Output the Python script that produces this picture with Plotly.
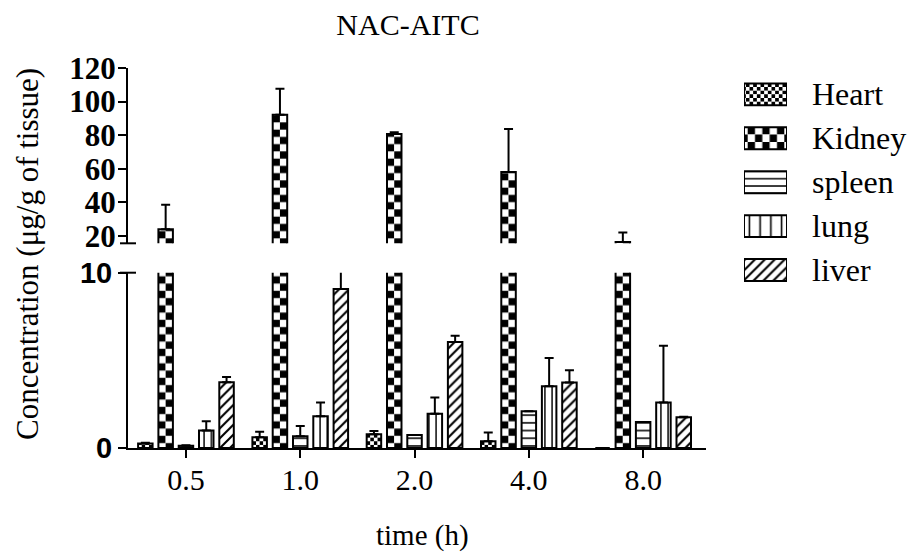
import plotly.graph_objects as go

# ---------------- data ----------------
times = ["0.5", "1.0", "2.0", "4.0", "8.0"]
organs = ["Heart", "Kidney", "spleen", "lung", "liver"]

heart = [0.25, 0.61, 0.78, 0.38, 0.0]
heart_err = [0.05, 0.32, 0.19, 0.51, 0.0]
kidney = [24.0, 92.2, 80.7, 58.0, 16.3]
kidney_err = [14.5, 15.4, 1.0, 25.7, 5.7]
spleen = [0.13, 0.67, 0.74, 2.10, 1.49]
spleen_err = [0.03, 0.59, 0.0, 0.0, 0.0]
lung = [1.00, 1.81, 1.96, 3.52, 2.59]
lung_err = [0.52, 0.78, 0.92, 1.62, 3.24]
liver = [3.75, 9.07, 6.04, 3.73, 1.75]
liver_err = [0.30, 1.20, 0.36, 0.71, 0.03]

lower_ticks = [0, 10]
upper_ticks = [20, 40, 60, 80, 100, 120]
lower_range = [0, 10]
upper_range = [15.6, 120]

values = [heart, kidney, spleen, lung, liver]
errors = [heart_err, kidney_err, spleen_err, lung_err, liver_err]

# ---------------- geometry / styles ----------------
W, H = 915, 552
ML, MR, MT, MB = 128, 0, 68, 104
PW, PH = W - ML - MR, H - MT - MB
X_RIGHT = 706
CAT_PX = 114.3
pitch = 20.3 / CAT_PX
bw = 14.5 / CAT_PX
SERIF = "Liberation Serif, Times New Roman, serif"
SANS = "Liberation Sans, Arial, sans-serif"

styles = [
    dict(kind="checker", cols=4, size=7.25, lrows=6, lsize=7.33),
    dict(kind="checker", cols=2, size=14.5, lrows=3, lsize=14.66),
    dict(kind="pattern", shape="-", size=7.7, solidity=0.2, lsize=7.33, lsolid=0.2),
    dict(kind="pattern", shape="|", size=7.25, solidity=0.2, lsize=10.75, lsolid=0.15),
    dict(kind="pattern", shape="/", size=7.0, solidity=0.3, lsize=7.0, lsolid=0.3),
]

fig = go.Figure()


def err_spec(e):
    return dict(type="data", array=e, arrayminus=[0] * len(e), symmetric=False,
                color="black", thickness=2, width=4.5)


def add_group(vals, errs, idx, st, yaxis):
    center = (idx - 2) * pitch
    left = center - bw / 2
    common = dict(x=times, y=vals, xaxis="x", yaxis=yaxis, showlegend=False,
                  hoverinfo="skip")
    if st["kind"] == "checker":
        n = st["cols"]
        for c in range(n):
            inv = c % 2 == 1
            fig.add_trace(go.Bar(
                **common, offset=left + c * bw / n, width=bw / n,
                marker=dict(color="white", line=dict(width=0),
                            pattern=dict(shape="-", fgcolor="white" if inv else "black",
                                         bgcolor="black" if inv else "white",
                                         size=st["size"], solidity=0.5,
                                         fillmode="replace"))))
        fig.add_trace(go.Bar(
            **common, offset=left, width=bw,
            marker=dict(color="rgba(0,0,0,0)", line=dict(color="black", width=2)),
            error_y=err_spec(errs)))
    else:
        fig.add_trace(go.Bar(
            **common, offset=left, width=bw,
            marker=dict(color="white", line=dict(color="black", width=2),
                        pattern=dict(shape=st["shape"], fgcolor="black", bgcolor="white",
                                     size=st["size"], solidity=st["solidity"],
                                     fillmode="replace")),
            error_y=err_spec(errs)))


for yax in ["y", "y2"]:
    for i in range(len(organs)):
        add_group(values[i], errors[i], i, styles[i], yax)

# ---------------- custom legend (swatches) ----------------
SW = 0.5
for i, organ in enumerate(organs):
    st = styles[i]
    common = dict(x=[1], y=[organ], orientation="h", xaxis="x3", yaxis="y3",
                  showlegend=False, hoverinfo="skip")
    if st["kind"] == "checker":
        n = st["lrows"]
        for r in range(n):
            inv = r % 2 == 1
            fig.add_trace(go.Bar(
                **common, offset=-SW / 2 + r * SW / n, width=SW / n,
                marker=dict(color="white", line=dict(width=0),
                            pattern=dict(shape="|", fgcolor="white" if inv else "black",
                                         bgcolor="black" if inv else "white",
                                         size=st["lsize"], solidity=0.5,
                                         fillmode="replace"))))
        fig.add_trace(go.Bar(
            **common, offset=-SW / 2, width=SW,
            marker=dict(color="rgba(0,0,0,0)", line=dict(color="black", width=2))))
    else:
        fig.add_trace(go.Bar(
            **common, offset=-SW / 2, width=SW,
            marker=dict(color="white", line=dict(color="black", width=2),
                        pattern=dict(shape=st["shape"], fgcolor="black", bgcolor="white",
                                     size=st["lsize"], solidity=st["lsolid"],
                                     fillmode="replace"))))

# ---------------- layout ----------------
axis_common = dict(showline=True, linewidth=2, linecolor="black", ticks="outside",
                   ticklen=8, tickwidth=2, tickcolor="black", showgrid=False,
                   zeroline=False)

fig.update_layout(
    width=W, height=H,
    margin=dict(l=ML, r=MR, t=MT, b=MB),
    barmode="overlay",
    plot_bgcolor="white", paper_bgcolor="white",
    showlegend=False,
    font=dict(family=SERIF, color="black"),
    title=dict(text="NAC-AITC", x=408 / W, xanchor="center", xref="container",
               y=1 - 24 / H, yanchor="middle", yref="container",
               font=dict(family=SERIF, size=30, color="black")),
    xaxis=dict(**axis_common, domain=[0, (X_RIGHT - ML) / PW], type="category",
               categoryorder="array", categoryarray=times, range=[-0.507, 4.55],
               anchor="y", tickfont=dict(family=SERIF, size=30),
               ticklabelstandoff=-4),
    yaxis=dict(**axis_common, domain=[0, (448 - 272.7) / PH], range=lower_range,
               tickvals=lower_ticks, anchor="x",
               tickfont=dict(family=SANS, size=29, weight="bold"),
               ticklabelstandoff=0),
    yaxis2=dict(**axis_common, domain=[(448 - 243.3) / PH, 1], range=upper_range,
                tickvals=upper_ticks, anchor="x",
                tickfont=dict(family=SERIF, size=31, weight="bold"),
                ticklabelstandoff=-4),
    xaxis3=dict(domain=[(744 - ML) / PW, (787 - ML) / PW], range=[0, 1],
                visible=False, anchor="y3", fixedrange=True),
    yaxis3=dict(domain=[(448 - 292) / PH, (448 - 72.4) / PH], type="category",
                categoryorder="array", categoryarray=organs, range=[4.5, -0.5],
                visible=False, anchor="x3", fixedrange=True),
)

annotations = []
for organ in organs:
    annotations.append(dict(text=organ, xref="paper", x=(810 - ML) / PW, xanchor="left",
                            yref="y3", y=organ, yanchor="middle", showarrow=False,
                            font=dict(family=SERIF, size=32, color="black")))
annotations.append(dict(text="Concentration (μg/g of tissue)", textangle=-90,
                        xref="paper", x=(27 - ML) / PW, xanchor="center",
                        yref="paper", y=(448 - 254) / PH, yanchor="middle",
                        showarrow=False,
                        font=dict(family=SERIF, size=31, color="black")))
annotations.append(dict(text="time (h)", xref="paper", x=(422 - ML) / PW,
                        xanchor="center", yref="paper", y=(448 - 535) / PH,
                        yanchor="middle", showarrow=False, borderpad=0,
                        font=dict(family=SERIF, size=29, color="black")))
fig.update_layout(annotations=annotations)

# axis-break marks
for yref, yv in [("y2 domain", 0), ("y domain", 1)]:
    fig.add_shape(type="line", xref="x domain", xsizemode="pixel", xanchor=0,
                  x0=-8, x1=8, yref=yref, y0=yv, y1=yv,
                  line=dict(color="black", width=2))

fig.write_html("out.html", config={"displayModeBar": False},
               post_script="document.body.style.margin='0';document.body.style.padding='0';")
